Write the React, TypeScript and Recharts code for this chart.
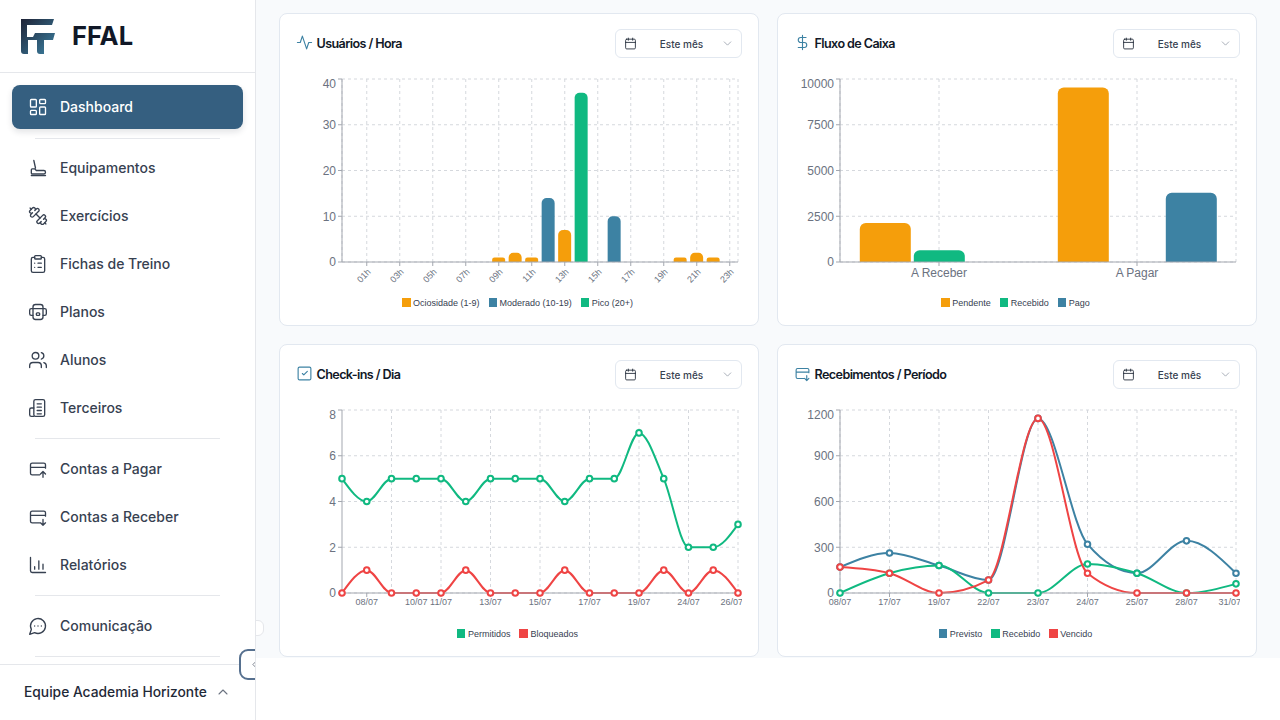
import type { ReactNode } from "react";
import { Bar, BarChart, CartesianGrid, Legend, Line, LineChart, XAxis, YAxis } from "recharts";

const hours = ["00h", "01h", "02h", "03h", "04h", "05h", "06h", "07h", "08h", "09h", "10h", "11h", "12h", "13h", "14h", "15h", "16h", "17h", "18h", "19h", "20h", "21h", "22h", "23h"];
const hourTicks = ["01h", "03h", "05h", "07h", "09h", "11h", "13h", "15h", "17h", "19h", "21h", "23h"];
const ociosidade = [0, 0, 0, 0, 0, 0, 0, 0, 0, 1, 2, 1, 0, 7, 0, 0, 0, 0, 0, 0, 1, 2, 1, 0];
const moderado = [0, 0, 0, 0, 0, 0, 0, 0, 0, 0, 0, 0, 14, 0, 0, 0, 10, 0, 0, 0, 0, 0, 0, 0];
const pico = [0, 0, 0, 0, 0, 0, 0, 0, 0, 0, 0, 0, 0, 0, 37, 0, 0, 0, 0, 0, 0, 0, 0, 0];

const fluxoCategorias = ["A Receber", "A Pagar"];
const pendente = [2130, 9530];
const recebidoFluxo = [640, 0];
const pago = [0, 3780];

const checkinDias = ["07/07", "08/07", "09/07", "10/07", "11/07", "12/07", "13/07", "14/07", "15/07", "16/07", "17/07", "18/07", "19/07", "22/07", "24/07", "25/07", "26/07"];
const checkinTicks = ["08/07", "10/07", "11/07", "13/07", "15/07", "17/07", "19/07", "24/07", "26/07"];
const checkinGrid = ["09/07", "11/07", "13/07", "15/07", "17/07", "19/07", "24/07", "26/07"];
const permitidos = [5, 4, 5, 5, 5, 4, 5, 5, 5, 4, 5, 5, 7, 5, 2, 2, 3];
const bloqueados = [0, 1, 0, 0, 0, 1, 0, 0, 0, 1, 0, 0, 0, 1, 0, 1, 0];

const periodoDias = ["08/07", "17/07", "19/07", "22/07", "23/07", "24/07", "25/07", "28/07", "31/07"];
const previsto = [170, 262, 180, 85, 1145, 320, 130, 342, 130];
const recebidoPeriodo = [0, 130, 180, 0, 0, 190, 130, 0, 60];
const vencido = [170, 130, 0, 85, 1145, 130, 0, 0, 0];

const hourData = hours.map((hora, i) => ({ hora, ociosidade: ociosidade[i], moderado: moderado[i], pico: pico[i] }));
const fluxoData = fluxoCategorias.map((nome, i) => ({ nome, pendente: pendente[i], recebido: recebidoFluxo[i], pago: pago[i] }));
const checkinData = checkinDias.map((dia, i) => ({ dia, permitidos: permitidos[i], bloqueados: bloqueados[i] }));
const periodoData = periodoDias.map((dia, i) => ({ dia, previsto: previsto[i], recebido: recebidoPeriodo[i], vencido: vencido[i] }));

const ORANGE = "#f59e0b";
const BLUE = "#3d82a3";
const GREEN = "#10b981";
const RED = "#ef4444";
const AXIS = "#a3a7af";
const TICK = "#6b7280";
const GRID = "#d5d8dd";
const FONT = "Inter, sans-serif";
const TICK_FONT = "'Liberation Sans', sans-serif";

const chartW = 445;
const chartH = 240;
const margin = { top: 3, right: 4, bottom: 5, left: 0 };
const yTick = { fontSize: 12, fill: TICK, fontFamily: TICK_FONT };
const xTickSmall = { fontSize: 9, fill: TICK, fontFamily: TICK_FONT };
const xAxisH = 33;

function LegendRow({ payload }: any) {
  return (
    <div style={{ display: "flex", justifyContent: "center", alignItems: "center", height: 16, gap: 9, fontFamily: TICK_FONT, fontSize: 9, color: "#374151" }}>
      {(payload ?? []).map((entry: any) => (
        <div key={entry.value} style={{ display: "flex", alignItems: "center", gap: 2.5 }}>
          <span style={{ width: 8.5, height: 8.5, background: entry.color, display: "block" }} />
          <span>{entry.value}</span>
        </div>
      ))}
    </div>
  );
}

const legendProps = {
  height: 16,
  itemSorter: null,
  content: LegendRow,
};

function Svg({ size = 20, color = "#374151", sw = 1.6, children }: { size?: number; color?: string; sw?: number; children: ReactNode }) {
  return (
    <svg width={size} height={size} viewBox="0 0 24 24" fill="none" stroke={color} strokeWidth={sw} strokeLinecap="round" strokeLinejoin="round" style={{ display: "block" }}>
      {children}
    </svg>
  );
}

const cardDown = <path d="M21 11V7a2 2 0 0 0-2-2H5a2 2 0 0 0-2 2v10a2 2 0 0 0 2 2h9M3 10h18M18 15v7M15 19l3 3 3-3" />;
const cardUp = <path d="M21 11V7a2 2 0 0 0-2-2H5a2 2 0 0 0-2 2v10a2 2 0 0 0 2 2h9M3 10h18M18 22v-7M15 18l3-3 3 3" />;
const dumbbell = (
  <g transform="translate(24,0) scale(-1,1)">
    <path d="M17.596 12.768a2 2 0 1 0 2.829-2.829l-1.768-1.767a2 2 0 0 0 2.828-2.829l-2.828-2.828a2 2 0 0 0-2.829 2.828l-1.767-1.768a2 2 0 1 0-2.829 2.829z" />
    <path d="m2.5 21.5 1.4-1.4M20.1 3.9l1.4-1.4M9.6 14.4l4.8-4.8" />
    <path d="M5.343 21.485a2 2 0 1 0 2.829-2.828l1.767 1.768a2 2 0 1 0 2.829-2.829l-6.364-6.364a2 2 0 1 0-2.829 2.829l1.768 1.767a2 2 0 0 0-2.828 2.829z" />
  </g>
);

const menu: { label: string; y: number; icon: ReactNode }[] = [
  { label: "Equipamentos", y: 168, icon: <path d="M7 3l2 9M4 14a1 1 0 0 1 1-1h3l2 2h9a2 2 0 0 1 0 4H5a1 1 0 0 1-1-1zM4 21h17" /> },
  { label: "Exercícios", y: 216, icon: dumbbell },
  { label: "Fichas de Treino", y: 264, icon: <><rect x="8" y="2" width="8" height="4" rx="1" /><path d="M16 4h2a2 2 0 0 1 2 2v14a2 2 0 0 1-2 2H6a2 2 0 0 1-2-2V6a2 2 0 0 1 2-2h2M12 11h4M12 16h4M8 11h.01M8 16h.01" /></> },
  { label: "Planos", y: 312, icon: <><rect x="6" y="3" width="12" height="18" rx="3" /><path d="M6 8H4a2 2 0 0 0-2 2v4a2 2 0 0 0 2 2h2M18 8h2a2 2 0 0 1 2 2v4a2 2 0 0 1-2 2h-2M6 8h12" /><rect x="10" y="13" width="4" height="3" rx="1" /></> },
  { label: "Alunos", y: 360, icon: <><path d="M16 21v-2a4 4 0 0 0-4-4H6a4 4 0 0 0-4 4v2" /><circle cx="9" cy="7" r="4" /><path d="M22 21v-2a4 4 0 0 0-3-3.87M16 3.13a4 4 0 0 1 0 7.75" /></> },
  { label: "Terceiros", y: 408, icon: <><rect x="7" y="2" width="13" height="20" rx="2" /><path d="M7 12H4a2 2 0 0 0-2 2v6a2 2 0 0 0 2 2h3M11 7h5M11 11h5M11 15h5M11 19h5" /></> },
  { label: "Contas a Pagar", y: 469, icon: cardUp },
  { label: "Contas a Receber", y: 517, icon: cardDown },
  { label: "Relatórios", y: 565, icon: <path d="M3 3v16a2 2 0 0 0 2 2h16M8 17v-3M13 17V7M18 17v-6" /> },
  { label: "Comunicação", y: 626, icon: <><path d="M7.9 20A9 9 0 1 0 4 16.1L2 22Z" /><path d="M8 12h.01M12 12h.01M16 12h.01" /></> },
];
const dividers = [138, 438, 595, 656];

function Sidebar() {
  return (
    <div style={{ position: "absolute", left: 0, top: 0, width: 255, height: 720, background: "#fff", borderRight: "1px solid #e5e7eb" }}>
      <svg width="36" height="36" viewBox="0 0 36 36" style={{ position: "absolute", left: 20, top: 19 }}>
        <defs>
          <linearGradient id="logo" x1="0" y1="0" x2="1" y2="1">
            <stop offset="0" stopColor="#1e2235" />
            <stop offset="1" stopColor="#3d82a3" />
          </linearGradient>
        </defs>
        <path d="M1 0h33l-2 6H7v12h6l2-4h20l-2 7H24v14h-4a3 3 0 0 1-3-3V21H8v14H4a3 3 0 0 1-3-3z" fill="url(#logo)" />
      </svg>
      <div style={{ position: "absolute", left: 72, top: 21, fontSize: 25.5, lineHeight: "30px", fontWeight: 700, color: "#111827" }}>FFAL</div>
      <div style={{ position: "absolute", left: 0, right: 0, top: 72, height: 1, background: "#e5e7eb" }} />
      <div style={{ position: "absolute", left: 12, top: 85, width: 231, height: 44, borderRadius: 8, background: "#355f80", boxShadow: "0 3px 6px rgba(15,23,42,0.12)" }} />
      <div style={{ position: "absolute", left: 28, top: 97 }}>
        <Svg color="#fff">
          <rect x="3" y="3" width="7" height="9" rx="1" />
          <rect x="14" y="3" width="7" height="5" rx="1" />
          <rect x="14" y="12" width="7" height="9" rx="1" />
          <rect x="3" y="16" width="7" height="5" rx="1" />
        </Svg>
      </div>
      <div style={{ position: "absolute", left: 60, top: 97, fontSize: 14, lineHeight: "20px", fontWeight: 500, color: "#fff" }}>Dashboard</div>
      {menu.map((item) => (
        <div key={item.label}>
          <div style={{ position: "absolute", left: 28, top: item.y - 10 }}>
            <Svg>{item.icon}</Svg>
          </div>
          <div style={{ position: "absolute", left: 60, top: item.y - 10, fontSize: 14, lineHeight: "20px", fontWeight: 500, color: "#374151" }}>{item.label}</div>
        </div>
      ))}
      {dividers.map((y) => (
        <div key={y} style={{ position: "absolute", left: 35, width: 185, top: y, height: 1, background: "#e5e7eb" }} />
      ))}
      <div style={{ position: "absolute", left: 0, right: 0, top: 664, height: 1, background: "#e5e7eb" }} />
      <div style={{ position: "absolute", left: 24, top: 682, fontSize: 13.8, lineHeight: "20px", fontWeight: 500, color: "#1f2937" }}>Equipe Academia Horizonte</div>
      <div style={{ position: "absolute", left: 215, top: 684 }}>
        <Svg size={16} color="#6b7280"><path d="m18 15-6-6-6 6" /></Svg>
      </div>
      <div style={{ position: "absolute", left: 239, top: 648, width: 16, height: 33, overflow: "hidden" }}>
        <div style={{ position: "absolute", left: 0, top: 1, width: 30, height: 31, boxSizing: "border-box", border: "2px solid #56708f", borderRadius: 9, background: "#fff" }} />
        <div style={{ position: "absolute", left: 9, top: 10 }}>
          <Svg size={13} color="#6b7280"><path d="m15 18-6-6 6-6" /></Svg>
        </div>
      </div>
    </div>
  );
}

function Card({ x, y, title, icon, children }: { x: number; y: number; title: string; icon: ReactNode; children: ReactNode }) {
  return (
    <div style={{ position: "absolute", left: x, top: y, width: 480, height: 313, boxSizing: "border-box", background: "#fff", border: "1px solid #e2e8f0", borderRadius: 8 }}>
      <div style={{ position: "absolute", left: 16, top: 20 }}>
        <Svg size={17} color={BLUE}>{icon}</Svg>
      </div>
      <div style={{ position: "absolute", left: 36.5, top: 20, fontSize: 12.6, lineHeight: "20px", fontWeight: 600, letterSpacing: -0.6, color: "#111827" }}>{title}</div>
      <div style={{ position: "absolute", left: 334.5, top: 15.5, width: 127, height: 29, boxSizing: "border-box", border: "1px solid #e2e8f0", borderRadius: 6 }}>
        <div style={{ position: "absolute", left: 8, top: 7 }}>
          <Svg size={13} color="#1f2937"><path d="M8 2v4M16 2v4M3 10h18" /><rect x="3" y="4" width="18" height="18" rx="2" /></Svg>
        </div>
        <div style={{ position: "absolute", left: 28, width: 76, top: 6, textAlign: "center", fontSize: 10, lineHeight: "16px", fontWeight: 500, color: "#374151" }}>Este mês</div>
        <div style={{ position: "absolute", left: 105, top: 7 }}>
          <Svg size={13} color="#9ca3af"><path d="m6 9 6 6 6-6" /></Svg>
        </div>
      </div>
      <div style={{ position: "absolute", left: 17, top: 62 }}>{children}</div>
    </div>
  );
}

const dotFor = (color: string) => ({ r: 2.8, fill: "#fff", stroke: color, strokeWidth: 2 });

export default function App() {
  return (
    <div style={{ position: "fixed", left: 0, top: 0, width: 1280, height: 720, background: "#fff", overflow: "hidden", fontFamily: FONT }}>
      <div style={{ position: "absolute", left: 255, top: 0, width: 1025, height: 658, background: "#f8fafc" }} />
      <div style={{ position: "absolute", left: 250, top: 620, width: 14, height: 16, borderRadius: 6, background: "#fff", border: "1px solid #e5e7eb", boxSizing: "border-box" }} />
      <Sidebar />

      <Card x={279} y={12.5} title="Usuários / Hora" icon={<path d="M22 12h-4l-3 9L9 3l-3 9H2" />}>
        <BarChart width={chartW} height={chartH} data={hourData} margin={margin} style={{ fontFamily: FONT }}>
          <CartesianGrid stroke={GRID} strokeDasharray="3 3" />
          <XAxis dataKey="hora" ticks={hourTicks} interval={0} angle={-45} textAnchor="end" height={xAxisH} tick={xTickSmall} tickSize={4} stroke={AXIS} />
          <YAxis width={45} domain={[0, 40]} ticks={[0, 10, 20, 30, 40]} tick={yTick} tickSize={4} stroke={AXIS} />
          <Legend {...legendProps} />
          <Bar dataKey="ociosidade" name="Ociosidade (1-9)" stackId="a" fill={ORANGE} radius={[5, 5, 0, 0]} isAnimationActive={false} />
          <Bar dataKey="moderado" name="Moderado (10-19)" stackId="a" fill={BLUE} radius={[5, 5, 0, 0]} isAnimationActive={false} />
          <Bar dataKey="pico" name="Pico (20+)" stackId="a" fill={GREEN} radius={[5, 5, 0, 0]} isAnimationActive={false} />
        </BarChart>
      </Card>

      <Card x={777} y={12.5} title="Fluxo de Caixa" icon={<path d="M12 2v20M17 5H9.5a3.5 3.5 0 0 0 0 7h5a3.5 3.5 0 0 1 0 7H6" />}>
        <BarChart width={chartW} height={chartH} data={fluxoData} margin={margin} barGap={3} style={{ fontFamily: FONT }}>
          <CartesianGrid stroke={GRID} strokeDasharray="3 3" />
          <XAxis dataKey="nome" height={xAxisH} tick={yTick} tickSize={4} stroke={AXIS} />
          <YAxis width={45} domain={[0, 10000]} ticks={[0, 2500, 5000, 7500, 10000]} tick={yTick} tickSize={4} stroke={AXIS} />
          <Legend {...legendProps} />
          <Bar dataKey="pendente" name="Pendente" fill={ORANGE} radius={[6, 6, 0, 0]} isAnimationActive={false} />
          <Bar dataKey="recebido" name="Recebido" fill={GREEN} radius={[6, 6, 0, 0]} isAnimationActive={false} />
          <Bar dataKey="pago" name="Pago" fill={BLUE} radius={[6, 6, 0, 0]} isAnimationActive={false} />
        </BarChart>
      </Card>

      <Card x={279} y={343.5} title="Check-ins / Dia" icon={<><rect x="3" y="3" width="18" height="18" rx="2" /><path d="m9 12 2 2 5-5" /></>}>
        <LineChart width={chartW} height={chartH} data={checkinData} margin={margin} style={{ fontFamily: FONT }}>
          <CartesianGrid
            stroke={GRID}
            strokeDasharray="3 3"
            verticalCoordinatesGenerator={({ offset }: any) =>
              checkinGrid.map((d) => offset.left + (offset.width * checkinDias.indexOf(d)) / (checkinDias.length - 1))
            }
          />
          <XAxis dataKey="dia" ticks={checkinTicks} interval="preserveEnd" minTickGap={0} height={xAxisH} tick={xTickSmall} tickSize={4} stroke={AXIS} />
          <YAxis width={45} domain={[0, 8]} ticks={[0, 2, 4, 6, 8]} tick={yTick} tickSize={4} stroke={AXIS} />
          <Legend {...legendProps} />
          <Line type="monotone" dataKey="permitidos" name="Permitidos" stroke={GREEN} strokeWidth={2} dot={dotFor(GREEN)} isAnimationActive={false} />
          <Line type="monotone" dataKey="bloqueados" name="Bloqueados" stroke={RED} strokeWidth={2} dot={dotFor(RED)} isAnimationActive={false} />
        </LineChart>
      </Card>

      <Card x={777} y={343.5} title="Recebimentos / Período" icon={cardDown}>
        <LineChart width={chartW} height={chartH} data={periodoData} margin={margin} style={{ fontFamily: FONT }}>
          <CartesianGrid stroke={GRID} strokeDasharray="3 3" />
          <XAxis dataKey="dia" interval="preserveEnd" minTickGap={0} height={xAxisH} tick={xTickSmall} tickSize={4} stroke={AXIS} />
          <YAxis width={45} domain={[0, 1200]} ticks={[0, 300, 600, 900, 1200]} tick={yTick} tickSize={4} stroke={AXIS} />
          <Legend {...legendProps} />
          <Line type="monotone" dataKey="previsto" name="Previsto" stroke={BLUE} strokeWidth={2} dot={dotFor(BLUE)} isAnimationActive={false} />
          <Line type="monotone" dataKey="recebido" name="Recebido" stroke={GREEN} strokeWidth={2} dot={dotFor(GREEN)} isAnimationActive={false} />
          <Line type="monotone" dataKey="vencido" name="Vencido" stroke={RED} strokeWidth={2} dot={dotFor(RED)} isAnimationActive={false} />
        </LineChart>
      </Card>
    </div>
  );
}
